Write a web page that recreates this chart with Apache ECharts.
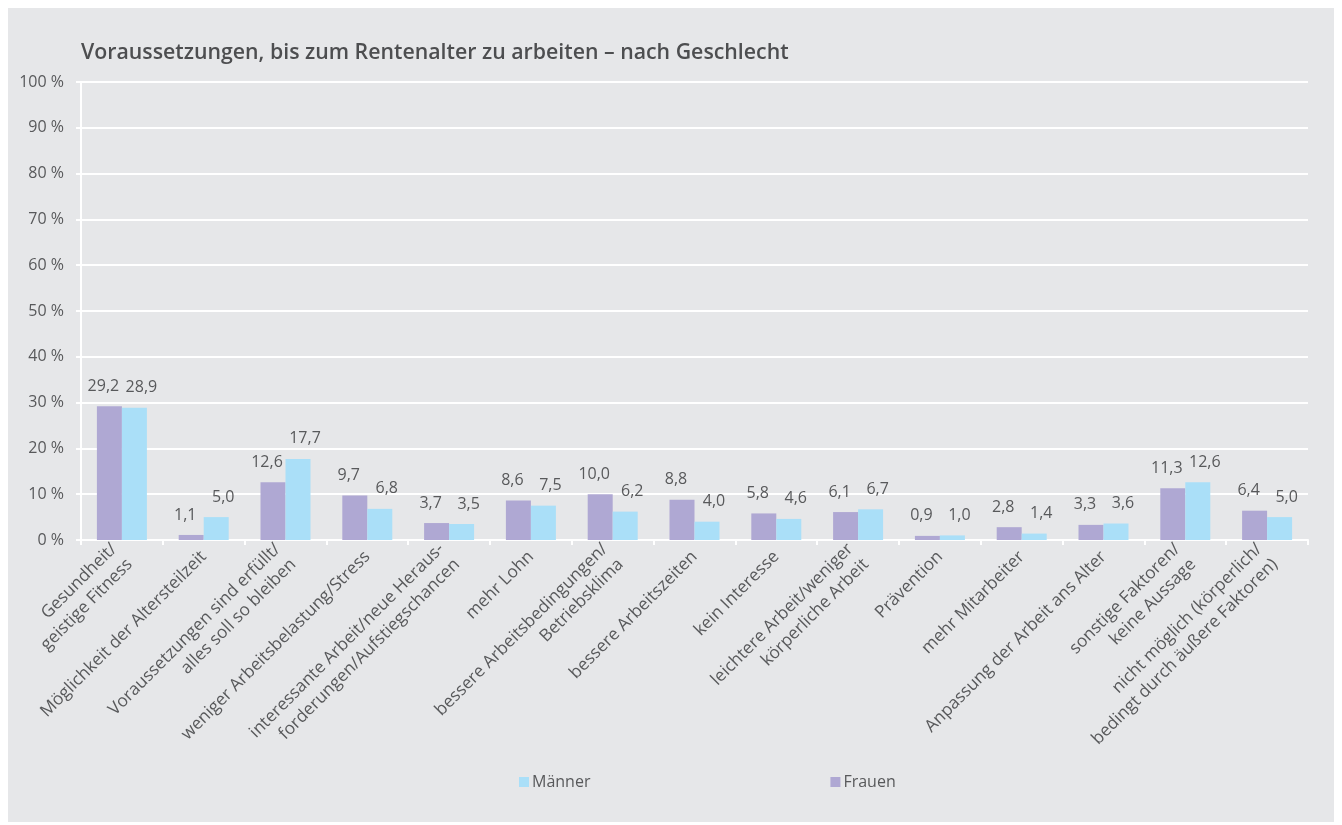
<!DOCTYPE html>
<html>
<head>
<meta charset="utf-8">
<script src="https://cdn.jsdelivr.net/npm/echarts@6/dist/echarts.min.js"></script>
<style>
html,body{margin:0;padding:0;background:#ffffff;}
#chart{position:absolute;left:8px;top:8px;width:1326px;height:814px;background:#e6e7e9;}
</style>
</head>
<body>
<div id="chart"></div>
<script>
const categories = [
  "Gesundheit/\ngeistige Fitness",
  "Möglichkeit der Altersteilzeit",
  "Voraussetzungen sind erfüllt/\nalles soll so bleiben",
  "weniger Arbeitsbelastung/Stress",
  "interessante Arbeit/neue Heraus-\nforderungen/Aufstiegschancen",
  "mehr Lohn",
  "bessere Arbeitsbedingungen/\nBetriebsklima",
  "bessere Arbeitszeiten",
  "kein Interesse",
  "leichtere Arbeit/weniger\nkörperliche Arbeit",
  "Prävention",
  "mehr Mitarbeiter",
  "Anpassung der Arbeit ans Alter",
  "sonstige Faktoren/\nkeine Aussage",
  "nicht möglich (körperlich/\nbedingt durch äußere Faktoren)"
];
const frauen = [29.2, 1.1, 12.6, 9.7, 3.7, 8.6, 10.0, 8.8, 5.8, 6.1, 0.9, 2.8, 3.3, 11.3, 6.4];
const maenner = [28.9, 5.0, 17.7, 6.8, 3.5, 7.5, 6.2, 4.0, 4.6, 6.7, 1.0, 1.4, 3.6, 12.6, 5.0];
const titleText = "Voraussetzungen, bis zum Rentenalter zu arbeiten – nach Geschlecht";

const FONT = "Open Sans";
const TXT = "#58595b";
const fmt = v => v.toFixed(1).replace('.', ',');

const chart = echarts.init(document.getElementById('chart'), null, {renderer: 'canvas'});
chart.setOption({
  backgroundColor: '#e6e7e9',
  animation: false,
  textStyle: {fontFamily: FONT},
  title: {
    text: titleText,
    left: 73, top: 34, padding: 0,
    textStyle: {fontFamily: FONT, fontSize: 21.3, fontWeight: 600, color: '#4d4e50'}
  },
  grid: {left: 73, top: 74, right: 26, bottom: 282, containLabel: false},
  legend: {
    data: ['Männer', 'Frauen'],
    left: 511, top: 766, padding: 0,
    icon: 'rect', itemWidth: 10, itemHeight: 10, itemGap: 240,
    textStyle: {fontFamily: FONT, fontSize: 16, color: TXT, padding: [0,0,0,-2]}
  },
  xAxis: {
    type: 'category',
    data: categories,
    axisLine: {lineStyle: {color: '#ffffff', width: 2}},
    axisTick: {show: true, length: 5, lineStyle: {color: '#ffffff', width: 2}},
    axisLabel: {interval: 0, rotate: 45, fontFamily: FONT, fontSize: 17.2, color: TXT, margin: 14, lineHeight: 22}
  },
  yAxis: {
    type: 'value', min: 0, max: 100, interval: 10,
    axisLine: {show: true, lineStyle: {color: '#ffffff', width: 2}},
    axisTick: {show: true, length: 5, lineStyle: {color: '#ffffff', width: 2}},
    splitLine: {show: true, lineStyle: {color: '#ffffff', width: 2}},
    axisLabel: {formatter: '{value} %', fontFamily: FONT, fontSize: 16, color: TXT, margin: 17}
  },
  series: [
    {
      name: 'Frauen', type: 'bar', data: frauen,
      barWidth: 25, barGap: '0%',
      itemStyle: {color: '#afa8d3'},
      label: {show: true, position: 'top', distance: 12, offset: [-6, 0], formatter: p => fmt(p.value),
        fontFamily: FONT, fontSize: 16, color: TXT}
    },
    {
      name: 'Männer', type: 'bar', data: maenner,
      barWidth: 25, barGap: '0%',
      itemStyle: {color: '#aadff8'},
      label: {show: true, position: 'top', distance: 12, offset: [7, 0], formatter: p => fmt(p.value),
        fontFamily: FONT, fontSize: 16, color: TXT}
    }
  ]
});
</script>
</body>
</html>
